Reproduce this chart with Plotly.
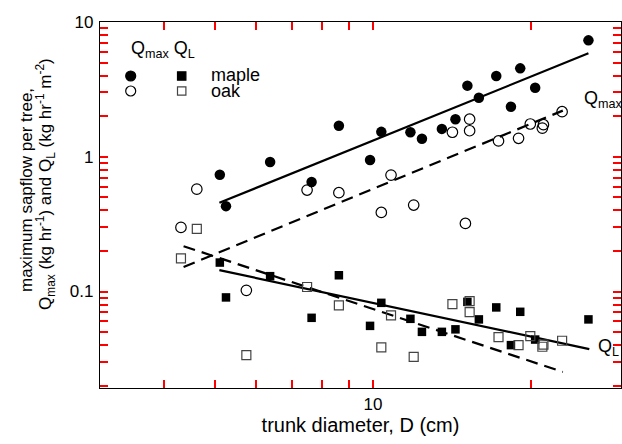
import plotly.graph_objects as go

# ---------------- data ----------------
maple_d = [25.7, 19.06, 17.16, 15.12, 20.35, 15.9, 18.3, 14.35, 13.52, 8.61,
           10.37, 11.78, 12.39, 9.87, 6.37, 5.11, 7.64, 5.25]
maple_qmax = [7.31, 4.53, 3.97, 3.37, 3.25, 2.74, 2.35, 1.90, 1.61, 1.70,
              1.53, 1.52, 1.36, 0.945, 0.914, 0.735, 0.649, 0.43]
maple_ql = [0.0621, 0.0707, 0.0762, 0.0838, 0.044, 0.0621, 0.040, 0.0524, 0.0502, 0.132,
            0.0824, 0.0627, 0.0502, 0.0556, 0.130, 0.164, 0.0638, 0.0904]

oak_d = [22.9, 19.92, 21.1, 21.0, 15.27, 15.27, 14.16, 17.33, 18.92, 10.82,
         8.61, 7.49, 4.62, 4.31, 10.37, 11.95, 14.99, 5.74]
oak_qmax = [2.16, 1.75, 1.73, 1.63, 1.90, 1.56, 1.52, 1.31, 1.37, 0.731,
            0.541, 0.566, 0.575, 0.299, 0.386, 0.438, 0.32, 0.102]
oak_ql_d = [4.31, 4.62, 5.74, 7.49, 8.61, 10.37, 10.82, 11.95, 14.16, 15.27,
            15.27, 17.33, 18.92, 19.92, 21.0, 21.1, 22.9]
oak_ql = [0.176, 0.292, 0.0337, 0.108, 0.0789, 0.0385, 0.0665, 0.0327, 0.0805, 0.0849,
          0.0704, 0.0458, 0.040, 0.0467, 0.0389, 0.0404, 0.0431]

# fitted power-law lines (end points)
fit_maple_qmax_d = [5.10, 25.7]
fit_maple_qmax = [0.455, 5.86]
fit_oak_qmax_d = [4.36, 22.97]
fit_oak_qmax = [0.152, 2.20]
fit_maple_ql_d = [5.10, 25.8]
fit_maple_ql = [0.144, 0.0374]
fit_oak_ql_d = [4.36, 22.97]
fit_oak_ql = [0.217, 0.0253]

x_ticks = [4, 5, 6, 7, 8, 9, 10, 20, 30]
x_tick_text = ["", "", "", "", "", "", "10", "", ""]
y_ticks = [0.02, 0.03, 0.04, 0.05, 0.06, 0.07, 0.08, 0.09, 0.1,
           0.2, 0.3, 0.4, 0.5, 0.6, 0.7, 0.8, 0.9, 1,
           2, 3, 4, 5, 6, 7, 8, 9, 10]
y_tick_text = ["0.1" if v == 0.1 else ("1" if v == 1 else ("10" if v == 10 else "")) for v in y_ticks]

FONT = "Arial, Liberation Sans, sans-serif"

# ---------------- figure ----------------
W, H = 622, 444
L, R, T, B = 100, 1, 22, 56
pw, ph = W - L - R, H - T - B

def px(xp):
    return (xp - L) / pw

def py(yp):
    return (H - B - yp) / ph

fig = go.Figure()
dash = "12px,7px"
fig.add_trace(go.Scatter(x=fit_maple_qmax_d, y=fit_maple_qmax, mode="lines",
                         line=dict(color="black", width=2.2)))
fig.add_trace(go.Scatter(x=fit_oak_qmax_d, y=fit_oak_qmax, mode="lines",
                         line=dict(color="black", width=2.2, dash=dash)))
fig.add_trace(go.Scatter(x=fit_maple_ql_d, y=fit_maple_ql, mode="lines",
                         line=dict(color="black", width=2.2)))
fig.add_trace(go.Scatter(x=fit_oak_ql_d, y=fit_oak_ql, mode="lines",
                         line=dict(color="black", width=2.2, dash=dash)))

fig.add_trace(go.Scatter(x=maple_d, y=maple_qmax, mode="markers",
                         marker=dict(symbol="circle", size=10.5, color="black")))
fig.add_trace(go.Scatter(x=oak_d, y=oak_qmax, mode="markers",
                         marker=dict(symbol="circle-open", size=10.5, color="black",
                                     line=dict(width=1.2, color="black"))))
fig.add_trace(go.Scatter(x=maple_d, y=maple_ql, mode="markers",
                         marker=dict(symbol="square", size=8.5, color="black")))
fig.add_trace(go.Scatter(x=oak_ql_d, y=oak_ql, mode="markers",
                         marker=dict(symbol="square-open", size=9, color="#444",
                                     line=dict(width=1.2, color="#444"))))

# custom legend key symbols as shapes (paper coordinates)
def circ(cx, cy, r, filled):
    return dict(type="circle", xref="paper", yref="paper",
                x0=px(cx - r), x1=px(cx + r), y0=py(cy + r), y1=py(cy - r),
                line=dict(color="black", width=1.2),
                fillcolor="black" if filled else "rgba(0,0,0,0)")

def sq(cx, cy, h, filled):
    col = "black" if filled else "#444"
    return dict(type="rect", xref="paper", yref="paper",
                x0=px(cx - h), x1=px(cx + h), y0=py(cy + h), y1=py(cy - h),
                line=dict(color=col, width=1.2),
                fillcolor=col if filled else "rgba(0,0,0,0)")

shapes = [circ(130.7, 76, 5, True), sq(181.7, 76, 4.2, True),
          circ(130.7, 91, 5, False), sq(181.7, 91, 4.2, False)]

fig.update_layout(
    width=W, height=H, margin=dict(l=L, r=R, t=T, b=B),
    plot_bgcolor="white", showlegend=False,
    font=dict(family=FONT, size=17, color="black"),
    shapes=shapes,
    xaxis=dict(type="log", range=[0.4804, 1.4719], showline=True, linecolor="black",
               linewidth=1.2, mirror="ticks", ticks="inside", ticklen=8, tickwidth=2,
               tickcolor="red",
               gridcolor="rgba(0,0,0,0)", zerolinecolor="rgba(0,0,0,0)",
               tickmode="array", tickvals=x_ticks, ticktext=x_tick_text,
               title=dict(text="trunk diameter, D (cm)", font=dict(size=20), standoff=4)),
    yaxis=dict(type="log", range=[-1.716, 1.0], showline=True, linecolor="black",
               linewidth=1.2, mirror="ticks", ticks="inside", ticklen=8, tickwidth=2,
               tickcolor="red",
               gridcolor="rgba(0,0,0,0)", zerolinecolor="rgba(0,0,0,0)",
               tickmode="array", tickvals=y_ticks, ticktext=y_tick_text,
               ticklabelstandoff=2),
)

ann = [
    dict(text="Q<sub>max</sub> Q<sub>L</sub>", x=px(129), y=py(50)),
    dict(text="maple", x=px(209), y=py(75)),
    dict(text="oak", x=px(209), y=py(91)),
    dict(text="Q<sub>max</sub>", x=px(582), y=py(99)),
    dict(text="Q<sub>L</sub>", x=px(596), y=py(347)),
]
for a in ann:
    fig.add_annotation(text=a["text"], xref="paper", yref="paper", x=a["x"], y=a["y"],
                       xanchor="left", yanchor="middle", showarrow=False,
                       font=dict(family=FONT, size=18, color="black"))

fig.add_annotation(text="maximum sapflow per tree,", xref="paper", yref="paper",
                   x=px(27), y=py(190), xanchor="center", yanchor="middle",
                   textangle=-90, showarrow=False, font=dict(family=FONT, size=17))
fig.add_annotation(text="Q<sub>max</sub> (kg hr<sup>-1</sup>) and Q<sub>L</sub> (kg hr<sup>-1</sup> m<sup>-2</sup>)",
                   xref="paper", yref="paper",
                   x=px(45), y=py(184), xanchor="center", yanchor="middle",
                   textangle=-90, showarrow=False, font=dict(family=FONT, size=17))

fig.write_html("out.html")
